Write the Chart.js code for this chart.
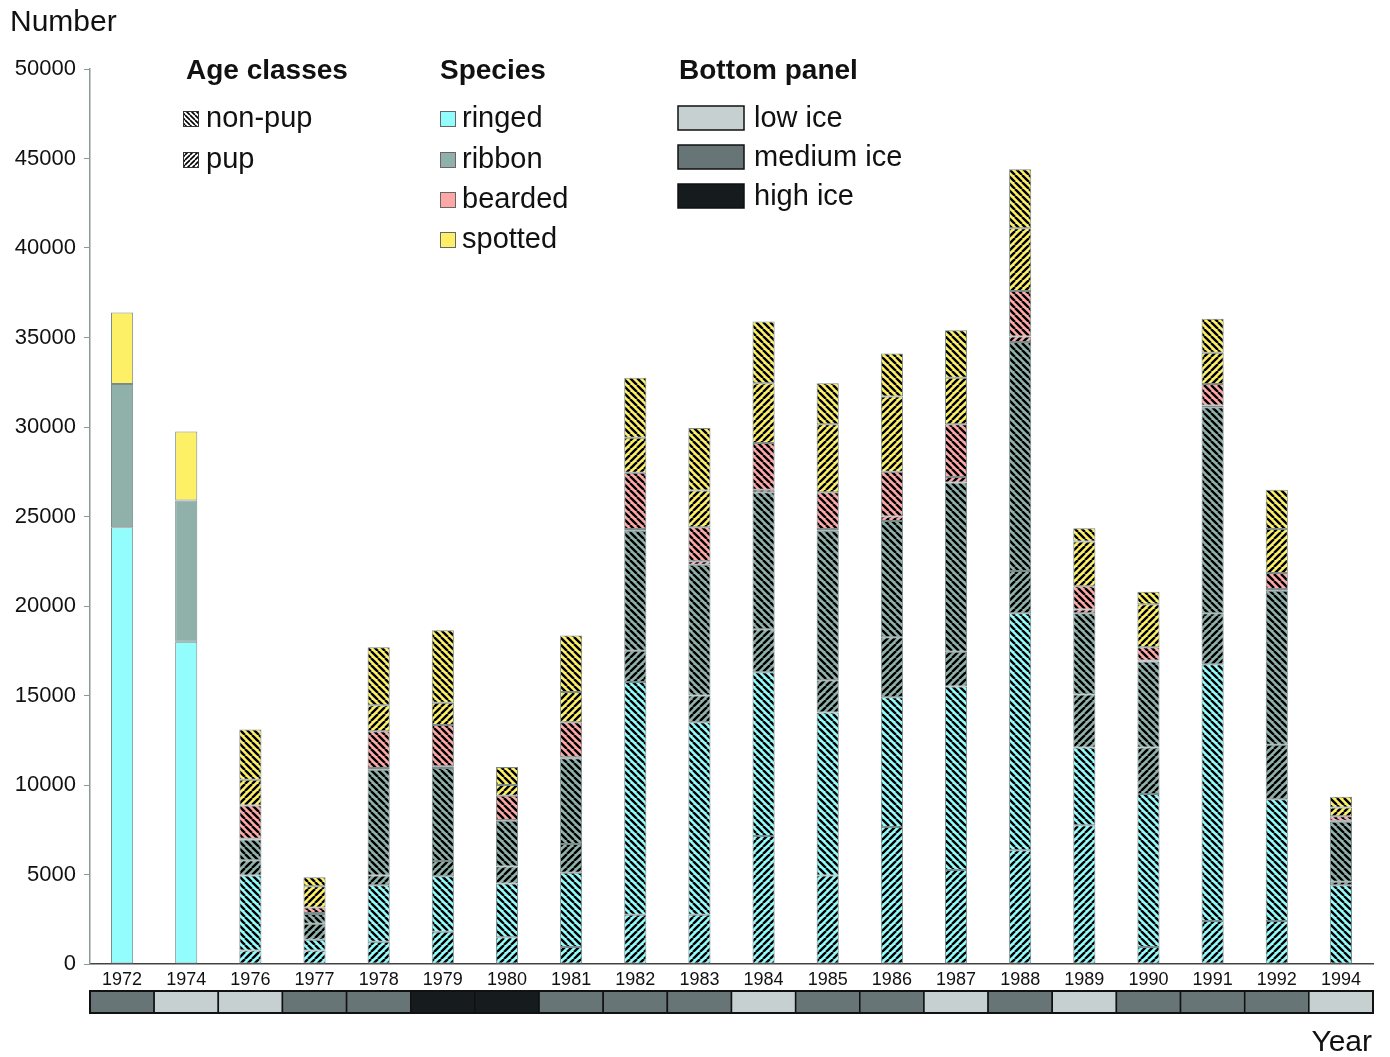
<!DOCTYPE html>
<html>
<head>
<meta charset="utf-8">
<script src="https://cdn.jsdelivr.net/npm/chart.js@4"></script>
<style>
  html,body{margin:0;padding:0;background:#fff;}
  #wrap{width:1390px;height:1057px;}
</style>
</head>
<body>
<div id="wrap"><canvas id="chart" width="1390" height="1057"></canvas></div>
<script>
// years on the x axis
const years=['1972','1974','1976','1977','1978','1979','1980','1981','1982','1983','1984','1985','1986','1987','1988','1989','1990','1991','1992','1994'];
// bottom panel: ice class per year
const iceClass=['medium','low','low','medium','medium','high','high','medium','medium','medium','low','medium','medium','low','medium','low','medium','medium','medium','low'];
const yTicks=[0,5000,10000,15000,20000,25000,30000,35000,40000,45000,50000];

// 1972 and 1974: no age split
const ringedAll =[24400,18000,null,null,null,null,null,null,null,null,null,null,null,null,null,null,null,null,null,null];
const ribbonAll =[8000,7900,null,null,null,null,null,null,null,null,null,null,null,null,null,null,null,null,null,null];
const spottedAll=[4000,3850,null,null,null,null,null,null,null,null,null,null,null,null,null,null,null,null,null,null];

const ringedPup    =[null,null,750,750,1250,1800,1500,950,2750,2750,7150,4950,7650,5250,6350,7750,950,2400,2400,0];
const ringedNonPup =[null,null,4200,600,3150,3100,3000,4150,13000,10750,9150,9100,7250,10250,13250,4350,8550,14350,6800,4400];
const ribbonPup    =[null,null,850,900,550,850,950,1600,1750,1500,2400,1800,3350,1950,2350,2950,2600,2850,3050,200];
const ribbonNonPup =[null,null,1150,550,5900,5200,2550,4800,6700,7300,7650,8350,6500,9450,12800,4550,4800,11500,8600,3350];
const beardedPup   =[null,null,50,50,100,100,50,50,100,200,150,100,250,300,300,200,50,100,100,50];
const beardedNonPup=[null,null,1850,300,2050,2300,1350,1950,3150,1900,2600,2050,2500,2950,2550,1300,750,1200,900,250];
const spottedPup   =[null,null,1450,1200,1450,1250,600,1700,1950,2050,3350,3800,4200,2600,3500,2500,2400,1750,2450,500];
const spottedNonPup=[null,null,2800,500,3250,4050,1000,3150,3350,3500,3450,2300,2400,2650,3300,750,700,1900,2200,600];

const COL={ringed:'#93fdfd',ribbon:'#8fb1a9',bearded:'#fda7a7',spotted:'#fdf066'};
const ICE={low:'#c6d0d0',medium:'#677576',high:'#161b1d'};
const FONT='"Liberation Sans", Arial, sans-serif';

// hatch pattern: dir '\\' = non-pup, '/' = pup
function hatch(color,dir,p=7,lw=2.4){
  const c=document.createElement('canvas');c.width=p;c.height=p;
  const g=c.getContext('2d');
  g.fillStyle=color;g.fillRect(0,0,p,p);
  g.strokeStyle='#000';g.lineWidth=lw;g.beginPath();
  [-p,0,p].forEach(o=>{
    if(dir==='/'){g.moveTo(o+p,0);g.lineTo(o,p);}
    else{g.moveTo(o,0);g.lineTo(o+p,p);}
  });
  g.stroke();
  return document.getElementById('chart').getContext('2d').createPattern(c,'repeat');
}

const ds=(label,data,bg)=>({label,data,backgroundColor:bg,borderColor:'#7b8b8b',borderWidth:1,borderSkipped:false,stack:'s'});

const datasets=[
  ds('ringed',ringedAll,COL.ringed),
  ds('ringed pup',ringedPup,hatch(COL.ringed,'/')),
  ds('ringed non-pup',ringedNonPup,hatch(COL.ringed,'\\')),
  ds('ribbon',ribbonAll,COL.ribbon),
  ds('ribbon pup',ribbonPup,hatch(COL.ribbon,'/')),
  ds('ribbon non-pup',ribbonNonPup,hatch(COL.ribbon,'\\')),
  ds('bearded pup',beardedPup,hatch(COL.bearded,'/')),
  ds('bearded non-pup',beardedNonPup,hatch(COL.bearded,'\\')),
  ds('spotted',spottedAll,COL.spotted),
  ds('spotted pup',spottedPup,hatch(COL.spotted,'/')),
  ds('spotted non-pup',spottedNonPup,hatch(COL.spotted,'\\'))
];

const decor={
  id:'decor',
  afterDraw(chart){
    const ctx=chart.ctx,x=chart.scales.x;
    ctx.save();
    // bottom ice panel
    const w=x.width/years.length;
    iceClass.forEach((k,i)=>{
      const cx=x.getPixelForValue(i);
      ctx.fillStyle=ICE[k];ctx.fillRect(cx-w/2,991,w,22);
      ctx.strokeStyle='#111';ctx.lineWidth=1.5;ctx.strokeRect(cx-w/2,991,w,22);
    });
    ctx.lineWidth=2;ctx.strokeRect(x.left,991,x.width,22);
    // axis titles
    ctx.fillStyle='#111';ctx.textBaseline='middle';
    ctx.font='30px '+FONT;ctx.textAlign='left';ctx.fillText('Number',10,23);
    ctx.textAlign='right';ctx.fillText('Year',1372,1043);
    // legend
    ctx.textAlign='left';
    ctx.font='bold 28px '+FONT;
    ctx.fillText('Age classes',186,71);ctx.fillText('Species',440,71);ctx.fillText('Bottom panel',679,71);
    ctx.font='29px '+FONT;
    [['non-pup','\\',118],['pup','/',159]].forEach(([t,d,y])=>{
      ctx.fillStyle=hatch('#ffffff',d,5,1.6);ctx.fillRect(183,y-7,15,15);
      ctx.strokeStyle='#333';ctx.lineWidth=1;ctx.strokeRect(183.5,y-6.5,15,15);
      ctx.fillStyle='#111';ctx.fillText(t,206,y+1);
    });
    [['ringed','ringed',118],['ribbon','ribbon',159],['bearded','bearded',199],['spotted','spotted',239]].forEach(([t,k,y])=>{
      ctx.fillStyle=COL[k];ctx.fillRect(440,y-7,15,15);
      ctx.strokeStyle='#666';ctx.lineWidth=1;ctx.strokeRect(440.5,y-6.5,15,15);
      ctx.fillStyle='#111';ctx.fillText(t,462,y+1);
    });
    [['low ice','low',118],['medium ice','medium',157],['high ice','high',196]].forEach(([t,k,y])=>{
      ctx.fillStyle=ICE[k];ctx.fillRect(678,y-12,66,24);
      ctx.strokeStyle='#111';ctx.lineWidth=1.5;ctx.strokeRect(678,y-12,66,24);
      ctx.fillStyle='#111';ctx.fillText(t,754,y+1);
    });
    ctx.restore();
  }
};

new Chart(document.getElementById('chart'),{
  type:'bar',
  data:{labels:years,datasets},
  options:{
    responsive:false,animation:false,devicePixelRatio:1,
    layout:{padding:{top:69,right:17,left:0,bottom:0}},
    datasets:{bar:{categoryPercentage:1,barPercentage:0.345}},
    plugins:{legend:{display:false},tooltip:{enabled:false}},
    scales:{
      x:{
        stacked:true,
        grid:{display:false,drawTicks:false},
        border:{color:'#444',width:1.5},
        ticks:{color:'#111',font:{family:FONT,size:18},padding:5,maxRotation:0,autoSkip:false},
        afterFit(s){s.height=93;}
      },
      y:{
        stacked:true,min:0,max:50000,
        afterBuildTicks(s){s.ticks=yTicks.map(v=>({value:v}));},
        grid:{drawOnChartArea:false,drawTicks:true,tickLength:6,color:'#8a9898'},
        border:{color:'#8a9898',width:1.5},
        ticks:{color:'#111',font:{family:FONT,size:22},padding:8,callback:v=>String(v)},
        afterFit(s){s.width=90;}
      }
    }
  },
  plugins:[decor]
});
</script>
</body>
</html>
